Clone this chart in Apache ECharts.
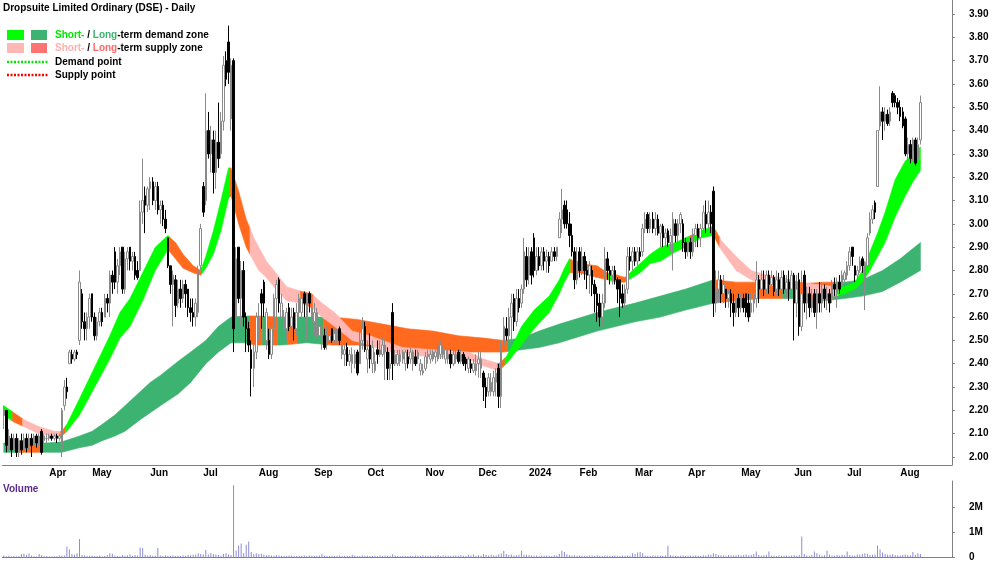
<!DOCTYPE html>
<html><head><meta charset="utf-8">
<script src="https://cdn.jsdelivr.net/npm/echarts@6/dist/echarts.min.js"></script>
<style>html,body{margin:0;padding:0;background:#fff}#c{width:1000px;height:562px}</style>
</head><body><div id="c"></div>
<script>
const chartTitle = 'Dropsuite Limited Ordinary (DSE) - Daily';
// month label -> index of first trading bar of that month
const monthTicks = [['Apr',18],['May',35],['Jun',58],['Jul',79],['Aug',101],['Sep',123],['Oct',144],['Nov',167],['Dec',188],['2024',208],['Feb',228],['Mar',250],['Apr',271],['May',292],['Jun',313],['Jul',334],['Aug',355]];
const priceTicks = [2.0,2.1,2.2,2.3,2.4,2.5,2.6,2.7,2.8,2.9,3.0,3.1,3.2,3.3,3.4,3.5,3.6,3.7,3.8,3.9];
const volumeTicksK = [0,1000,2000];
// daily bars: [open, close, low, high]
const ohlc = [
[2.18,2.20,2.12,2.22],[2.20,2.05,2.02,2.20],[2.05,2.09,2.03,2.12],[2.08,2.03,2.00,2.10],[2.03,2.08,2.02,2.10],[2.08,2.02,2.00,2.10],[2.02,2.07,2.00,2.08],[2.07,2.03,2.01,2.10],[2.03,2.08,2.02,2.10],[2.08,2.04,2.02,2.10],
[2.04,2.08,2.03,2.10],[2.08,2.05,2.00,2.10],[2.05,2.09,2.04,2.10],[2.09,2.06,2.04,2.10],[2.06,2.09,2.05,2.10],[2.11,2.02,2.01,2.12],[2.07,2.09,2.06,2.10],[2.08,2.08,2.06,2.10],
[2.08,2.09,2.07,2.10],[2.09,2.08,2.07,2.10],[2.08,2.09,2.07,2.10],[2.09,2.08,2.06,2.10],[2.08,2.09,2.07,2.10],[2.03,2.20,2.00,2.21],[2.22,2.30,2.20,2.33],[2.30,2.28,2.25,2.34],[2.40,2.45,2.40,2.46],[2.44,2.42,2.40,2.46],
[2.42,2.45,2.41,2.46],[2.45,2.44,2.42,2.46],[2.50,2.75,2.48,2.80],[2.70,2.58,2.55,2.72],[2.58,2.55,2.50,2.62],[2.55,2.60,2.50,2.62],[2.60,2.68,2.55,2.70],
[2.70,2.60,2.58,2.70],[2.60,2.52,2.50,2.62],[2.52,2.58,2.50,2.60],[2.58,2.62,2.56,2.64],[2.62,2.58,2.56,2.64],[2.60,2.68,2.60,2.70],[2.68,2.66,2.62,2.70],[2.66,2.78,2.60,2.80],[2.78,2.75,2.70,2.80],[2.88,2.75,2.72,2.90],
[2.75,2.82,2.70,2.85],[2.82,2.88,2.78,2.90],[2.90,2.72,2.70,2.90],[2.72,2.85,2.70,2.88],[2.85,2.88,2.80,2.90],[2.90,2.84,2.80,2.90],[2.84,2.86,2.80,2.88],[2.86,2.78,2.76,2.88],[2.80,2.77,2.76,2.84],[2.80,3.05,2.80,3.10],
[3.05,3.10,3.00,3.28],[3.12,3.08,2.96,3.16],[3.08,3.15,3.05,3.16],
[3.15,3.18,3.06,3.20],[3.18,3.10,3.08,3.20],[3.10,3.16,3.06,3.18],[3.16,3.06,3.04,3.18],[3.06,3.08,3.00,3.10],[3.08,3.02,2.99,3.10],[3.02,2.98,2.96,3.06],[2.94,2.82,2.81,2.94],[2.82,2.74,2.70,2.82],[2.74,2.78,2.56,2.80],
[2.76,2.65,2.60,2.78],[2.66,2.72,2.64,2.76],[2.72,2.68,2.64,2.76],[2.68,2.74,2.66,2.76],[2.74,2.70,2.64,2.76],[2.72,2.64,2.60,2.72],[2.64,2.62,2.58,2.68],[2.62,2.60,2.56,2.68],[2.60,2.66,2.56,2.68],[2.62,2.80,2.60,2.82],
[2.82,2.98,2.80,3.00],
[3.16,3.05,3.03,3.18],[3.10,3.40,3.08,3.56],[3.40,3.30,3.28,3.48],[3.30,3.36,3.22,3.42],[3.36,3.22,3.13,3.40],[3.22,3.35,3.15,3.40],[3.35,3.28,3.24,3.52],[3.30,3.44,3.28,3.48],[3.44,3.68,3.40,3.72],[3.70,3.62,3.59,3.74],
[3.78,3.65,3.60,3.85],[3.45,3.68,3.40,3.71],[3.70,2.55,2.45,3.71],[2.60,2.85,2.50,2.90],[2.90,2.68,2.66,2.90],[2.68,2.80,2.56,2.84],[2.80,2.60,2.56,2.84],[2.60,2.55,2.45,2.62],[2.55,2.48,2.45,2.58],[2.46,2.38,2.26,2.50],
[2.38,2.45,2.30,2.52],
[2.45,2.60,2.42,2.62],[2.58,2.60,2.50,2.66],[2.70,2.66,2.55,2.72],[2.75,2.66,2.60,2.76],[2.50,2.62,2.46,2.64],[2.50,2.44,2.42,2.55],[2.44,2.55,2.42,2.58],[2.55,2.68,2.52,2.70],[2.68,2.74,2.60,2.76],[2.76,2.66,2.62,2.77],
[2.60,2.66,2.58,2.70],[2.55,2.60,2.50,2.63],[2.55,2.62,2.50,2.64],[2.64,2.56,2.54,2.66],[2.56,2.60,2.52,2.64],[2.62,2.55,2.50,2.64],[2.55,2.62,2.52,2.66],[2.62,2.68,2.60,2.70],[2.62,2.68,2.60,2.70],[2.70,2.66,2.60,2.71],
[2.58,2.66,2.50,2.70],[2.70,2.66,2.62,2.71],[2.58,2.64,2.54,2.66],
[2.58,2.62,2.52,2.66],[2.56,2.62,2.51,2.64],[2.52,2.56,2.50,2.60],[2.50,2.52,2.46,2.56],[2.52,2.47,2.46,2.55],[2.48,2.52,2.46,2.56],[2.50,2.52,2.49,2.55],[2.55,2.50,2.49,2.55],[2.50,2.53,2.49,2.55],[2.50,2.52,2.49,2.55],
[2.55,2.50,2.48,2.56],[2.44,2.48,2.42,2.50],[2.44,2.46,2.39,2.48],[2.47,2.41,2.39,2.49],[2.41,2.44,2.39,2.46],[2.40,2.44,2.36,2.47],[2.40,2.44,2.38,2.46],[2.45,2.36,2.35,2.46],[2.40,2.50,2.40,2.56],[2.50,2.55,2.46,2.60],
[2.56,2.46,2.45,2.58],
[2.42,2.46,2.36,2.50],[2.48,2.42,2.38,2.53],[2.40,2.47,2.36,2.50],[2.37,2.41,2.36,2.45],[2.46,2.44,2.40,2.50],[2.44,2.46,2.43,2.50],[2.44,2.48,2.43,2.51],[2.45,2.48,2.33,2.50],[2.45,2.38,2.33,2.47],[2.38,2.40,2.33,2.45],
[2.62,2.40,2.33,2.66],[2.40,2.44,2.39,2.46],[2.40,2.44,2.39,2.46],[2.41,2.44,2.39,2.46],[2.42,2.45,2.40,2.46],[2.40,2.45,2.37,2.46],[2.43,2.40,2.38,2.46],[2.42,2.45,2.40,2.47],[2.40,2.45,2.37,2.46],[2.43,2.40,2.39,2.46],
[2.42,2.45,2.40,2.46],[2.37,2.40,2.35,2.42],
[2.36,2.37,2.35,2.40],[2.38,2.43,2.37,2.45],[2.43,2.44,2.40,2.46],[2.42,2.44,2.40,2.46],[2.42,2.45,2.41,2.46],[2.43,2.45,2.40,2.46],[2.42,2.48,2.41,2.50],[2.44,2.48,2.42,2.50],[2.44,2.46,2.42,2.48],[2.42,2.46,2.40,2.47],
[2.42,2.44,2.40,2.46],[2.44,2.40,2.38,2.46],[2.40,2.44,2.39,2.46],[2.42,2.44,2.40,2.46],[2.45,2.41,2.40,2.46],[2.41,2.44,2.40,2.46],[2.44,2.40,2.39,2.45],[2.42,2.40,2.37,2.43],[2.38,2.42,2.36,2.43],[2.40,2.38,2.36,2.42],
[2.37,2.40,2.36,2.42],[2.37,2.40,2.35,2.44],
[2.40,2.42,2.34,2.45],[2.38,2.42,2.34,2.45],[2.36,2.30,2.24,2.37],[2.30,2.26,2.21,2.34],[2.28,2.34,2.26,2.36],[2.28,2.32,2.26,2.36],[2.28,2.34,2.26,2.37],[2.32,2.36,2.26,2.38],[2.38,2.26,2.21,2.40],[2.26,2.48,2.21,2.50],
[2.48,2.56,2.46,2.60],[2.55,2.52,2.50,2.60],[2.52,2.60,2.50,2.64],[2.60,2.66,2.50,2.70],[2.68,2.58,2.54,2.70],[2.58,2.68,2.56,2.72],[2.68,2.64,2.62,2.72],[2.66,2.72,2.64,2.74],[2.72,2.88,2.70,2.94],
[2.86,2.76,2.73,2.90],[2.78,2.86,2.74,2.90],[2.88,2.78,2.74,2.90],[2.94,2.80,2.77,2.96],[2.80,2.86,2.78,2.90],[2.86,2.82,2.80,2.90],[2.82,2.88,2.80,2.90],[2.88,2.84,2.80,2.90],[2.84,2.86,2.79,2.89],[2.86,2.82,2.79,2.88],
[2.84,2.88,2.84,2.90],[2.88,2.86,2.84,2.90],[2.86,2.90,2.84,2.90],[2.94,3.02,2.94,3.05],[3.02,3.06,2.96,3.15],[3.08,3.00,2.98,3.10],[3.06,3.00,2.98,3.10],[3.00,2.95,2.90,3.05],[2.95,2.88,2.86,3.00],[2.88,2.76,2.72,2.90],
[2.76,2.84,2.74,2.90],
[2.88,2.80,2.77,2.90],[2.80,2.86,2.78,2.90],[2.86,2.80,2.76,2.88],[2.80,2.78,2.72,2.84],[2.78,2.82,2.70,2.84],[2.80,2.74,2.69,2.82],[2.74,2.70,2.62,2.76],[2.70,2.65,2.58,2.73],[2.66,2.60,2.56,2.70],[2.60,2.66,2.56,2.70],
[2.66,2.85,2.64,2.90],[2.85,2.80,2.76,2.88],[2.80,2.78,2.74,2.82],[2.78,2.80,2.74,2.82],[2.80,2.76,2.74,2.82],[2.76,2.72,2.66,2.77],[2.76,2.68,2.60,2.76],[2.70,2.66,2.64,2.74],[2.66,2.72,2.64,2.74],[2.72,2.86,2.70,2.90],
[2.86,2.84,2.80,2.90],
[2.84,2.88,2.80,2.90],[2.88,2.84,2.82,2.90],[2.84,2.88,2.82,2.90],[2.88,2.86,2.84,2.90],[2.88,2.98,2.86,3.00],[2.98,3.02,2.96,3.05],[3.04,2.98,2.96,3.05],[2.98,3.02,2.96,3.05],[3.02,2.98,2.96,3.05],[2.98,3.02,2.95,3.05],
[3.02,2.96,2.95,3.04],[2.96,2.99,2.90,3.00],[2.99,2.94,2.90,3.00],[2.94,2.96,2.90,2.98],[2.97,2.92,2.90,2.98],[2.92,2.95,2.88,2.98],[2.95,3.02,2.80,3.05],[3.00,2.95,2.92,3.02],[2.95,3.00,2.92,3.02],[3.00,3.04,2.96,3.05],
[3.00,2.92,2.88,3.02],[2.92,2.88,2.85,2.94],[2.88,2.92,2.86,2.94],[2.92,2.88,2.85,2.94],[2.88,2.95,2.86,2.98],[2.95,2.98,2.90,3.00],[2.98,2.94,2.90,3.00],[2.94,2.98,2.90,3.00],[2.98,3.05,2.96,3.08],[3.04,3.00,2.96,3.10],
[3.00,3.05,2.98,3.10],[3.05,3.00,2.96,3.08],[3.14,2.66,2.60,3.16],[2.66,2.72,2.62,2.80],[2.72,2.76,2.66,2.80],[2.76,2.70,2.66,2.78],[2.70,2.74,2.66,2.78],[2.72,2.68,2.64,2.72],[2.68,2.70,2.64,2.72],[2.70,2.66,2.60,2.72],
[2.66,2.62,2.56,2.70],[2.62,2.68,2.60,2.70],[2.68,2.64,2.60,2.70],[2.64,2.68,2.62,2.70],[2.68,2.64,2.62,2.70],[2.70,2.62,2.60,2.70],[2.66,2.60,2.58,2.70],[2.62,2.66,2.60,2.70],[2.66,2.70,2.62,2.72],[2.68,2.76,2.64,2.84],
[2.76,2.72,2.66,2.78],[2.72,2.76,2.70,2.80],[2.76,2.72,2.69,2.80],[2.72,2.78,2.70,2.80],[2.78,2.74,2.70,2.80],[2.74,2.77,2.70,2.80],[2.77,2.71,2.69,2.78],[2.72,2.76,2.69,2.80],[2.76,2.72,2.69,2.79],[2.72,2.77,2.70,2.80],
[2.78,2.72,2.70,2.80],[2.72,2.75,2.68,2.78],[2.75,2.72,2.67,2.80],
[2.72,2.78,2.68,2.80],[2.78,2.66,2.50,2.79],[2.66,2.72,2.60,2.78],[2.76,2.56,2.52,2.79],[2.56,2.70,2.54,2.80],[2.78,2.66,2.62,2.80],[2.66,2.70,2.59,2.73],[2.70,2.64,2.60,2.73],[2.64,2.68,2.62,2.72],[2.70,2.62,2.60,2.72],
[2.62,2.70,2.55,2.72],[2.70,2.66,2.62,2.75],[2.66,2.72,2.62,2.75],[2.72,2.68,2.64,2.74],[2.68,2.70,2.63,2.73],[2.70,2.66,2.62,2.72],[2.68,2.74,2.66,2.76],[2.74,2.72,2.69,2.77],[2.70,2.75,2.64,2.77],
[2.75,2.72,2.70,2.78],[2.74,2.78,2.74,2.80],[2.76,2.79,2.75,2.80],[2.78,2.82,2.76,2.84],[2.82,2.88,2.80,2.90],[2.90,2.86,2.82,2.90],[2.82,2.78,2.75,2.82],[2.78,2.80,2.75,2.82],[2.80,2.84,2.79,2.86],[2.85,2.82,2.79,2.86],
[2.70,2.82,2.63,2.84],[2.82,2.94,2.81,2.96],[2.96,3.02,2.95,3.05],[3.02,3.06,3.00,3.08],[3.09,3.05,3.02,3.10],[3.16,3.40,3.16,3.40],[3.42,3.48,3.40,3.59],[3.48,3.44,3.36,3.50],[3.44,3.47,3.40,3.50],[3.47,3.43,3.42,3.49],
[3.44,3.48,3.42,3.50],[3.56,3.52,3.50,3.57],[3.55,3.52,3.50,3.56],
[3.52,3.50,3.47,3.54],[3.50,3.46,3.44,3.53],[3.48,3.42,3.41,3.50],[3.45,3.30,3.29,3.46],[3.30,3.34,3.26,3.37],[3.34,3.28,3.26,3.36],[3.30,3.36,3.27,3.37],[3.36,3.26,3.25,3.37],[3.28,3.34,3.26,3.37],[3.36,3.52,3.34,3.55]
];
// daily volume, thousands of shares
const volumeK = [
60,30,45,20,35,25,40,110,130,90, 140,60,30,20,120,70,25,35,20,15,
30,25,60,50,60,420,300,120,90,150, 720,80,60,40,50,45,40,35,60,30,
40,70,150,130,60,40,30,80,45,60, 100,50,80,60,380,360,90,60,80,50,
50,360,60,40,70,50,40,60,35,45, 40,60,50,80,70,90,100,150,120,100,
280,100,150,120,100,80,60,120,150,100, 80,2870,260,460,540,150,490,620,200,120,
150,120,130,90,70,80,60,50,70,60, 50,45,40,60,55,40,35,50,45,60,
40,55,50,35,45,60,120,50,40,35, 45,40,50,60,35,45,50,40,90,55,
40,35,60,45,50,40,35,45,30,55, 40,60,45,50,110,60,40,35,50,45,
40,50,35,60,45,40,70,50,45,55, 35,50,80,40,60,45,50,40,55,60,
45,70,50,40,90,60,100,50,70,60, 120,80,60,90,70,60,100,140,250,120,
80,100,60,70,90,250,100,90,70,60, 50,60,40,55,45,60,50,40,70,60,
120,250,200,110,80,60,70,50,60,45, 50,40,55,60,45,70,50,40,60,50,
45,40,60,50,40,55,45,60,50,150, 120,180,200,150,60,50,40,55,45,60,
50,40,60,450,80,60,50,40,45,60, 40,50,55,45,60,50,40,70,60,100,
90,150,120,80,70,60,50,80,70,60, 70,90,60,80,100,70,90,120,220,80,
60,70,90,220,60,50,40,60,50,45, 60,40,55,70,50,80,820,120,60,50,
80,220,150,90,60,70,250,100,60,50, 80,60,90,70,220,80,60,50,100,90,
120,150,130,80,90,100,460,300,180,120, 100,90,110,80,70,60,90,100,80,70,
200,90,150,120
];
// zone bands: [bar index, lower edge, upper edge]
const longBand = [[0,2.02,2.06],[6,2.02,2.06],[12,2.02,2.06],[17,2.02,2.06],[23,2.02,2.065],[30,2.04,2.09],[35,2.05,2.11],[39,2.07,2.14],[44,2.09,2.18],[48,2.11,2.22],[54,2.16,2.28],[58,2.19,2.32],[62,2.22,2.35],[69,2.27,2.41],[74,2.32,2.45],[80,2.40,2.50],[85,2.45,2.56],[90,2.49,2.60],[95,2.49,2.605],[100,2.48,2.605],[110,2.48,2.60],[120,2.49,2.60],[130,2.48,2.60],[140,2.48,2.59],[150,2.47,2.57],[160,2.46,2.55],[170,2.46,2.54],[180,2.45,2.52],[190,2.45,2.51],[198,2.45,2.50],[205,2.46,2.51],[212,2.47,2.54],[220,2.49,2.57],[235,2.54,2.62],[250,2.58,2.66],[260,2.60,2.69],[270,2.63,2.72],[281,2.66,2.76],[290,2.67,2.75],[300,2.68,2.75],[312,2.68,2.74],[325,2.67,2.75],[333,2.68,2.75],[340,2.69,2.76],[348,2.71,2.80],[355,2.75,2.85],[363,2.80,2.92]];
const shortBand = [[0,2.18,2.22],[4,2.15,2.19],[8,2.13,2.16],[14,2.10,2.13],[20,2.09,2.11],[23,2.09,2.11],[25,2.11,2.14],[30,2.18,2.25],[34,2.26,2.34],[38,2.34,2.43],[42,2.42,2.52],[46,2.51,2.62],[50,2.56,2.68],[55,2.67,2.79],[60,2.80,2.90],[65,2.89,2.95],[68,2.85,2.92],[71,2.81,2.87],[75,2.79,2.82],[78,2.78,2.80],[80,2.81,2.86],[83,2.87,2.97],[86,2.97,3.10],[89,3.11,3.24],[90,3.12,3.24],[93,3.00,3.14],[96,2.90,3.02],[99,2.84,2.94],[101,2.80,2.90],[104,2.77,2.84],[107,2.73,2.80],[112,2.67,2.73],[118,2.66,2.71],[122,2.64,2.70],[126,2.60,2.66],[131,2.56,2.62],[138,2.50,2.54],[145,2.48,2.52],[150,2.46,2.50],[158,2.44,2.47],[170,2.43,2.46],[184,2.42,2.45],[190,2.39,2.42],[196,2.37,2.40],[199,2.40,2.43],[202,2.44,2.49],[205,2.48,2.56],[210,2.55,2.63],[216,2.62,2.69],[220,2.70,2.76],[222,2.75,2.81],[224,2.79,2.85],[228,2.79,2.83],[235,2.77,2.82],[239,2.76,2.79],[243,2.75,2.78],[246,2.75,2.77],[249,2.77,2.80],[252,2.79,2.83],[256,2.83,2.87],[260,2.84,2.90],[266,2.88,2.92],[270,2.90,2.94],[276,2.94,2.97],[281,2.95,2.99],[284,2.89,2.93],[290,2.80,2.86],[296,2.76,2.80],[302,2.74,2.78],[308,2.73,2.77],[315,2.71,2.75],[322,2.69,2.74],[329,2.69,2.73],[333,2.70,2.73],[337,2.72,2.75],[340,2.75,2.80],[343,2.80,2.88],[346,2.86,2.96],[349,2.92,3.05],[353,3.03,3.19],[357,3.12,3.27],[360,3.18,3.30],[363,3.23,3.33]];
// zone state ranges: [first bar, last bar, state]
const longZones = [[0,6,'demand'],[7,15,'supply'],[16,97,'demand'],[98,102,'supply'],[103,104,'demand'],[105,108,'supply'],[109,112,'demand'],[113,116,'supply'],[117,126,'demand'],[127,199,'supply'],[200,280,'demand'],[281,308,'supply'],[309,314,'demand'],[315,328,'supply'],[329,363,'demand']];
const shortZones = [[0,3,'demand'],[4,7,'turn'],[8,22,'supply'],[23,24,'turn'],[25,65,'demand'],[66,78,'turn'],[79,89,'demand'],[90,97,'turn'],[98,117,'supply'],[118,122,'turn'],[123,195,'supply'],[196,198,'turn'],[199,224,'demand'],[225,239,'turn'],[240,242,'demand'],[243,246,'turn'],[247,271,'demand'],[272,273,'turn'],[274,280,'demand'],[281,283,'turn'],[284,310,'supply'],[311,313,'demand'],[314,317,'turn'],[318,330,'supply'],[331,363,'demand']];

// ---------- presentation ----------
const SLOTS = 376;
const FONT = 'Arial, "Liberation Sans", sans-serif';
const longColors = {demand:'#3cb371', supply:'#ff6a1f'};
const shortColors = {demand:'#00ff00', supply:'#ffb8b4', turn:'#ff6a1f'};
const cats = Array.from({length: SLOTS}, (_, k) => String(k));
const labelAt = {};
monthTicks.forEach(([l, i]) => { labelAt[i] = l; });

// pixel-space point on a drawn polyline at screen x = X (used to cut the band polygon at zone edges)
function edgeAt(pts, X) {
  if (X <= pts[0][0]) return pts[0];
  for (let i = 0; i < pts.length - 1; i++) {
    const a = pts[i], b = pts[i + 1];
    if (X <= b[0]) {
      const t = (X - a[0]) / (b[0] - a[0]);
      return [X, a[1] + t * (b[1] - a[1])];
    }
  }
  return pts[pts.length - 1];
}
function bandSeries(band, zones, colors) {
  return {
    type: 'custom', xAxisIndex: 0, yAxisIndex: 0, silent: true, clip: true,
    data: [[band[0][0], band[0][1]]],
    renderItem: function (params, api) {
      const top = band.map(p => api.coord([p[0], p[2]]));
      const bot = band.map(p => api.coord([p[0], p[1]]));
      const half = api.size([1, 0])[0] / 2;
      const children = zones.map(([s, e, st]) => {
        const X0 = api.coord([s, 0])[0] - half;
        const X1 = api.coord([e, 0])[0] + half;
        const upper = [edgeAt(top, X0)], lower = [edgeAt(bot, X0)];
        top.forEach((pt, i) => { if (pt[0] > X0 && pt[0] < X1) { upper.push(pt); lower.push(bot[i]); } });
        upper.push(edgeAt(top, X1)); lower.push(edgeAt(bot, X1));
        return {type: 'polygon', shape: {points: upper.concat(lower.reverse())},
                style: {fill: colors[st], stroke: colors[st], lineWidth: 0.6}};
      });
      return {type: 'group', children};
    }
  };
}

const axisGray = '#808080';
const chart = echarts.init(document.getElementById('c'), null, {renderer:'canvas'});
chart.setOption({
  animation: false,
  backgroundColor: '#ffffff',
  grid: [
    {left: 2.5, top: 0, width: 949.5, height: 465},
    {left: 2.5, top: 481, width: 949.5, height: 79}
  ],
  xAxis: [
    {type:'category', gridIndex:0, data: cats, boundaryGap: true,
     axisLine:{lineStyle:{color: axisGray}},
     axisTick:{interval:(i) => labelAt[i] !== undefined, length:5, lineStyle:{color: axisGray}},
     axisLabel:{interval:(i) => labelAt[i] !== undefined, formatter:(v, i) => labelAt[i] || '',
       align:'left', margin:3, color:'#000', fontWeight:'bold', fontSize:10, fontFamily: FONT},
     splitLine:{show:false}},
    {type:'category', gridIndex:1, data: cats, position:'top', boundaryGap: true,
     axisLine:{lineStyle:{color: axisGray}}, axisTick:{show:false}, axisLabel:{show:false}, splitLine:{show:false}}
  ],
  yAxis: [
    {type:'value', gridIndex:0, position:'right', min:1.9657, max:3.960, scale:true,
     axisLine:{show:true, lineStyle:{color: axisGray}},
     axisTick:{show:true, length:3, customValues: priceTicks, lineStyle:{color: axisGray}},
     axisLabel:{customValues: priceTicks, formatter:(v) => v.toFixed(2), margin:17,
       color:'#000', fontWeight:'bold', fontSize:10, fontFamily: FONT},
     splitLine:{show:false}},
    {type:'value', gridIndex:1, position:'right', min:0, max:3038,
     axisLine:{show:true, lineStyle:{color: axisGray}},
     axisTick:{show:true, length:3, customValues: volumeTicksK, lineStyle:{color: axisGray}},
     axisLabel:{customValues: volumeTicksK, formatter:(v) => v === 0 ? '0' : (v / 1000) + 'M', margin:17,
       color:'#000', fontWeight:'bold', fontSize:10, fontFamily: FONT},
     splitLine:{show:false}}
  ],
  series: [
    bandSeries(longBand, longZones, longColors),
    bandSeries(shortBand, shortZones, shortColors),
    {type:'candlestick', xAxisIndex:0, yAxisIndex:0, data: ohlc, barWidth: 2, silent:true,
     itemStyle:{color:'#ffffff', color0:'#000000', borderColor:'#8a8a8a', borderColor0:'#000000', borderColorDoji:'#8a8a8a', borderWidth:1}},
    {type:'bar', xAxisIndex:1, yAxisIndex:1, data: volumeK, barWidth: 1, silent:true,
     itemStyle:{color:'#8c8cd6'}}
  ],
  graphic: [
    {type:'text', x:3, y:8, style:{text: chartTitle, font:'bold 10px ' + FONT, fill:'#000', verticalAlign:'middle'}},
    {type:'rect', shape:{x:7, y:30, width:17, height:10}, style:{fill:'#00ff00'}},
    {type:'rect', shape:{x:31, y:30, width:16, height:10}, style:{fill:'#3cb371'}},
    {type:'rect', shape:{x:7, y:43, width:17, height:10}, style:{fill:'#ffb8b4'}},
    {type:'rect', shape:{x:31, y:43, width:16, height:10}, style:{fill:'#ff7373'}},
    {type:'line', shape:{x1:7, y1:62, x2:48, y2:62}, style:{stroke:'#00e600', lineWidth:2.5, lineDash:[2,1.5]}},
    {type:'line', shape:{x1:7, y1:75, x2:48, y2:75}, style:{stroke:'#ff0000', lineWidth:2.5, lineDash:[2,1.5]}},
    {type:'text', x:55, y:35, style:{text:'{g|Short-} / {dg|Long}-term demand zone', font:'bold 10px ' + FONT, fill:'#000', verticalAlign:'middle',
      rich:{g:{fill:'#00e600', font:'bold 10px ' + FONT}, dg:{fill:'#3cb371', font:'bold 10px ' + FONT}}}},
    {type:'text', x:55, y:48, style:{text:'{p|Short-} / {r|Long}-term supply zone', font:'bold 10px ' + FONT, fill:'#000', verticalAlign:'middle',
      rich:{p:{fill:'#ffb0b0', font:'bold 10px ' + FONT}, r:{fill:'#ff6b6b', font:'bold 10px ' + FONT}}}},
    {type:'text', x:55, y:62, style:{text:'Demand point', font:'bold 10px ' + FONT, fill:'#000', verticalAlign:'middle'}},
    {type:'text', x:55, y:75, style:{text:'Supply point', font:'bold 10px ' + FONT, fill:'#000', verticalAlign:'middle'}},
    {type:'text', x:3, y:489, style:{text:'Volume', font:'bold 10px ' + FONT, fill:'#5c2a8e', verticalAlign:'middle'}}
  ]
});
</script>
</body></html>
